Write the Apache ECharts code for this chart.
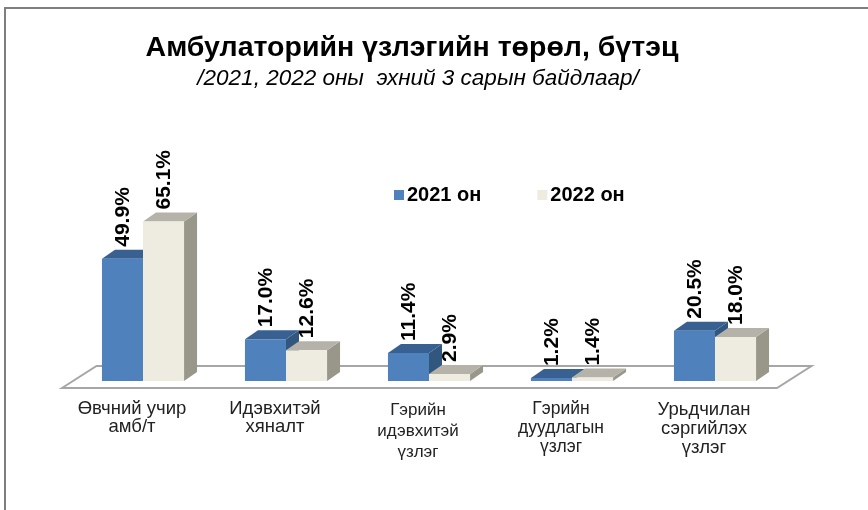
<!DOCTYPE html>
<html>
<head>
<meta charset="utf-8">
<style>html,body{margin:0;padding:0;background:#fff}#chart{width:868px;height:510px}</style>
<script src="https://cdn.jsdelivr.net/npm/echarts@6/dist/echarts.min.js"></script>
</head>
<body>
<div id="chart"></div>
<script>
var categories = ['Өвчний учир\nамб/т', 'Идэвхитэй\nхяналт', 'Гэрийн\nидэвхитэй\nүзлэг', 'Гэрийн\nдуудлагын\nүзлэг', 'Урьдчилан\nсэргийлэх\nүзлэг']
var values2021 = [49.9, 17.0, 11.4, 1.2, 20.5]
var values2022 = [65.1, 12.6, 2.9, 1.4, 18.0]

var depthX = 13
var depthY = 9
var font = '"Liberation Sans", Arial, sans-serif'

// 3d column: front face plus top and side faces
function barRenderer(side, topColor, sideColor) {
  return function (params, api) {
    var value = api.value(1)
    var base = api.coord([api.value(0), 0])
    var top = api.coord([api.value(0), value])
    var w = api.size([1, 0])[0] * 0.287
    var x0 = base[0] + (side < 0 ? -w : 0)
    var x1 = x0 + w
    var yb = base[1]
    var yt = top[1]
    return {
      type: 'group',
      children: [
        { type: 'polygon', shape: { points: [[x1, yb], [x1 + depthX, yb - depthY], [x1 + depthX, yt - depthY], [x1, yt]] }, style: { fill: sideColor } },
        { type: 'polygon', shape: { points: [[x0, yt], [x0 + depthX, yt - depthY], [x1 + depthX, yt - depthY], [x1, yt]] }, style: { fill: topColor } },
        { type: 'rect', shape: { x: x0, y: yt, width: w, height: yb - yt }, style: { fill: api.visual('color') } },
        {
          type: 'text',
          x: (x0 + x1) / 2 + 1,
          y: yt - 12,
          rotation: Math.PI / 2,
          style: { text: value.toFixed(1) + '%', font: 'bold 21px ' + font, fill: '#000', align: 'left', verticalAlign: 'middle' }
        }
      ]
    }
  }
}

// floor plate under the columns
function floorRenderer(params, api) {
  var cs = params.coordSys
  var y = api.coord([0, 0])[1]
  var l = cs.x - 9.5
  var r = cs.x + cs.width - 9.5
  return {
    type: 'polygon',
    shape: { points: [[l, y + 7], [l + 34.5, y - 15], [r + 34.5, y - 15], [r, y + 7]] },
    style: { fill: '#fff', stroke: '#a6a6a6', lineWidth: 2 }
  }
}

// axis labels are not all the same size in the original
var labelStyles = [
  { fontSize: 18.5, lineHeight: 18 },
  { fontSize: 18.5, lineHeight: 18 },
  { fontSize: 17, lineHeight: 21 },
  { fontSize: 17.5, lineHeight: 19 },
  { fontSize: 18.5, lineHeight: 19 }
]

var chart = echarts.init(document.getElementById('chart'))
chart.setOption({
  animation: false,
  backgroundColor: '#fff',
  title: [
    {
      text: 'Амбулаторийн үзлэгийн төрөл, бүтэц',
      left: 407,
      top: 29,
      textAlign: 'center',
      textStyle: { fontFamily: font, fontWeight: 'bold', fontSize: 28.5, color: '#000' }
    },
    {
      text: '/2021, 2022 оны  эхний 3 сарын байдлаар/',
      left: 413,
      top: 62,
      textAlign: 'center',
      textStyle: { fontFamily: font, fontStyle: 'italic', fontWeight: 'normal', fontSize: 22.5, color: '#000' }
    }
  ],
  legend: {
    left: 389,
    top: 180,
    data: ['2021 он', '2022 он'],
    icon: 'rect',
    itemWidth: 10,
    itemHeight: 10,
    itemGap: 56,
    textStyle: { fontFamily: font, fontWeight: 'bold', fontSize: 20, color: '#000', padding: [0, 0, 0, -2] }
  },
  grid: { left: 71.5, right: 81.5, top: 209.5, bottom: 129 },
  xAxis: {
    type: 'category',
    data: categories.map(function (c, i) {
      return { value: c, textStyle: labelStyles[i] }
    }),
    axisLine: { show: false },
    axisTick: { show: false },
    axisLabel: { margin: 19, interval: 0, fontFamily: font, color: '#222', padding: [0, 22, 0, 0] }
  },
  yAxis: { type: 'value', min: 0, max: 70, show: false },
  graphic: [{
    type: 'polyline',
    z: -1,
    shape: { points: [[5, 510], [5, 8], [868, 8]] },
    style: { stroke: '#7f7f7f', lineWidth: 2, fill: null }
  }],
  series: [
    { name: 'floor', type: 'custom', renderItem: floorRenderer, data: [[0, 0]], z: 1, silent: true },
    {
      name: '2021 он', type: 'custom', z: 2, itemStyle: { color: '#4f81bd' },
      renderItem: barRenderer(-1, '#386192', '#32577f'),
      encode: { x: 0, y: 1 },
      data: values2021.map(function (v, i) { return [i, v] })
    },
    {
      name: '2022 он', type: 'custom', z: 3, itemStyle: { color: '#eeece1' },
      renderItem: barRenderer(1, '#b5b3a9', '#989789'),
      encode: { x: 0, y: 1 },
      data: values2022.map(function (v, i) { return [i, v] })
    }
  ]
})
</script>
</body>
</html>
